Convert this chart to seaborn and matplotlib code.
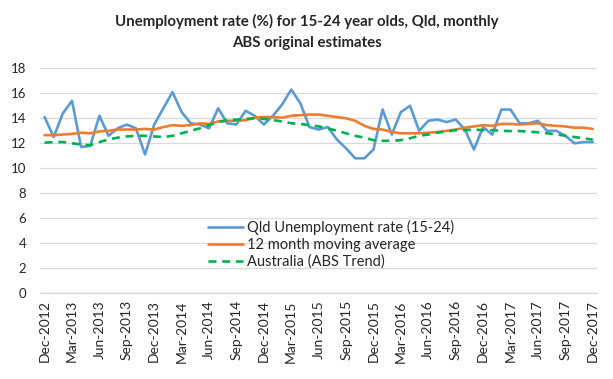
import numpy as np
import pandas as pd
import matplotlib
matplotlib.use("Agg")
import matplotlib.pyplot as plt
import seaborn as sns
from matplotlib.ticker import FixedLocator

# monthly, Dec-2012 .. Dec-2017
months = pd.date_range("2012-12-01", "2017-12-01", freq="MS").strftime("%b-%Y").tolist()

qld = [14.1, 12.5, 14.4, 15.4, 11.7, 11.8, 14.2, 12.6, 13.2, 13.5,
       13.2, 11.1, 13.5, 14.8, 16.1, 14.5, 13.6, 13.5, 13.2, 14.8,
       13.6, 13.5, 14.6, 14.2, 13.5, 14.2, 15.1, 16.3, 15.2, 13.3,
       13.1, 13.3, 12.3, 11.6, 10.8, 10.8, 11.5, 14.7, 12.7, 14.5,
       15.0, 13.0, 13.8, 13.9, 13.7, 13.9, 13.1, 11.5, 13.3, 12.7,
       14.7, 14.7, 13.6, 13.6, 13.8, 13.0, 13.0, 12.6, 12.0, 12.1,
       12.1]

moving_avg = [12.65, 12.65, 12.7, 12.75, 12.85, 12.8, 12.95, 13.0, 13.1, 13.1,
              13.1, 13.15, 13.1, 13.3, 13.45, 13.4, 13.45, 13.6, 13.55, 13.75,
              13.8, 13.8, 13.85, 14.05, 14.1, 14.1, 14.05, 14.2, 14.25, 14.3,
              14.3, 14.2, 14.1, 14.0, 13.8, 13.4, 13.15, 13.1, 12.9, 12.8,
              12.8, 12.8, 12.85, 12.9, 13.0, 13.1, 13.25, 13.35, 13.45, 13.4,
              13.55, 13.55, 13.5, 13.55, 13.6, 13.45, 13.4, 13.35, 13.25, 13.25,
              13.15]

aus_trend = [12.05, 12.1, 12.1, 12.0, 11.9, 11.85, 12.1, 12.3, 12.45, 12.55,
             12.6, 12.6, 12.55, 12.5, 12.6, 12.8, 13.0, 13.2, 13.45, 13.7,
             13.85, 13.9, 13.95, 14.0, 13.95, 13.85, 13.75, 13.6, 13.55, 13.45,
             13.35, 13.2, 13.0, 12.8, 12.6, 12.45, 12.25, 12.2, 12.2, 12.25,
             12.4, 12.6, 12.7, 12.85, 12.95, 13.05, 13.05, 13.1, 13.05, 13.05,
             13.0, 12.98, 12.98, 12.93, 12.88, 12.8, 12.72, 12.6, 12.5, 12.4,
             12.3]

df = pd.DataFrame({"idx": np.arange(len(months)), "month": months,
                   "qld": qld, "ma": moving_avg, "aus": aus_trend})

sns.set_style("white")
plt.rcParams["font.family"] = ["Lato", "DejaVu Sans"]

fig = plt.figure(figsize=(6.13, 3.79), dpi=100)
ax = fig.add_axes([40 / 613, 1 - 293.3 / 379, 557.3 / 613, 225 / 379])

sns.lineplot(data=df, x="idx", y="qld", color="#5B9BD5", lw=1.9, ax=ax,
             label="Qld Unemployment rate (15-24)")
sns.lineplot(data=df, x="idx", y="ma", color="#ED7D31", lw=1.9, ax=ax,
             label="12 month moving average")
sns.lineplot(data=df, x="idx", y="aus", color="#00B050", lw=1.9, ax=ax,
             linestyle=(0, (3, 2.2)), label="Australia (ABS Trend)")

ax.set_xlim(-0.5, len(months) - 0.5)
ax.set_ylim(0, 18)
ax.set_yticks(range(0, 19, 2))
ax.yaxis.grid(True, color="#D9D9D9", lw=0.9)
ax.set_axisbelow(True)

ax.set_xticks(range(0, len(months), 3))
ax.set_xticklabels(months[::3], rotation=90, fontsize=10)
ax.xaxis.set_minor_locator(FixedLocator(np.arange(-0.5, len(months), 3)))
ax.tick_params(axis="x", which="major", length=0, pad=5)
ax.tick_params(axis="x", which="minor", length=4, color="#D9D9D9", width=0.9)
ax.tick_params(axis="y", length=0, labelsize=9.5, pad=10)
ax.set_xlabel("")
ax.set_ylabel("")

for s in ["top", "right", "left"]:
    ax.spines[s].set_visible(False)
ax.spines["bottom"].set_color("#D9D9D9")
ax.spines["bottom"].set_linewidth(0.9)

ax.legend(loc="center left", bbox_to_anchor=((208 - 40) / 557.3, (293.3 - 244.3) / 225),
          frameon=False, fontsize=10.5, handlelength=2.4, handletextpad=0.3,
          labelspacing=0.18, borderaxespad=0, borderpad=0)

fig.text(0.5, 1 - 21.7 / 379, "Unemployment rate (%) for 15-24 year olds, Qld, monthly",
         ha="center", va="center", fontsize=10.8, fontweight="bold")
fig.text(0.5, 1 - 42.7 / 379, "ABS original estimates",
         ha="center", va="center", fontsize=10.8, fontweight="bold")

fig.savefig("out.png", dpi=100)
